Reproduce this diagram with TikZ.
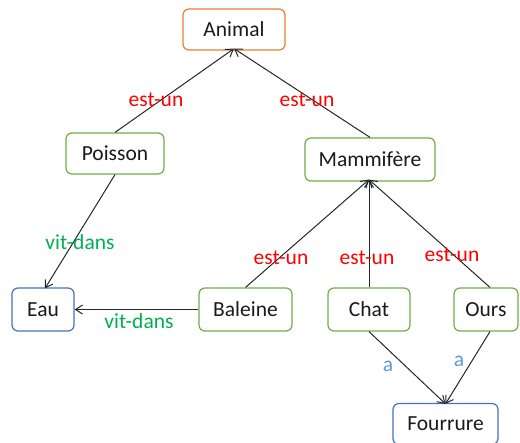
\documentclass[tikz,border=0pt]{standalone}
\usepackage{fontspec}
\setmainfont{Carlito}
\usetikzlibrary{arrows.meta}
\definecolor{boxorange}{HTML}{ED7D31}
\definecolor{boxgreen}{HTML}{70AD47}
\definecolor{boxblue}{HTML}{4472C4}
\definecolor{lblred}{HTML}{FF0000}
\definecolor{lblgreen}{HTML}{00B050}
\definecolor{lblblue}{HTML}{5B9BD5}
\definecolor{txt}{HTML}{1A1A1A}
\begin{document}
\begin{tikzpicture}[x=1pt,y=-1pt,
  concept/.style={draw, line width=1.2pt, rounded corners=6pt, fill=white,
    text=txt, font=\fontsize{21.5}{24}\selectfont, inner sep=0pt},
  orangebox/.style={concept, draw=boxorange},
  greenbox/.style={concept, draw=boxgreen},
  bluebox/.style={concept, draw=boxblue},
  rel/.style={draw=black!85, line width=1pt, -{Straight Barb[length=7pt,width=9pt]}},
  lbl/.style={font=\fontsize{21.5}{24}\selectfont, inner sep=0pt}
]
\useasboundingbox (0,0) rectangle (520,443);

% concepts
\node[orangebox, minimum width=102pt, minimum height=41pt] (animal) at (234,29.5) {Animal};
\node[greenbox, minimum width=98pt, minimum height=41pt] (poisson) at (115,153.5) {Poisson};
\node[greenbox, minimum width=130pt, minimum height=43pt] (mammi) at (370,159.5) {Mammifère};
\node[bluebox, minimum width=62pt, minimum height=43pt] (eau) at (43,309.5) {Eau};
\node[greenbox, minimum width=93pt, minimum height=43pt] (baleine) at (245.5,309.5) {Baleine};
\node[greenbox, minimum width=82pt, minimum height=43pt] (chat) at (369,309.5) {Chat};
\node[greenbox, minimum width=64pt, minimum height=43pt] (ours) at (486,309.5) {Ours};
\node[bluebox, minimum width=105pt, minimum height=41pt] (fourrure) at (445.5,424) {Fourrure};

% relations
\draw[rel] (poisson.north) -- ([yshift=2pt]animal.south);
\draw[rel] (mammi.north) -- ([yshift=2pt]animal.south);
\draw[rel] (poisson.south) -- ([xshift=2pt,yshift=-1pt]eau.north);
\draw[rel] (baleine.west) -- (eau.east);
\draw[rel] (baleine.north) -- ([xshift=-1pt,yshift=2pt]mammi.south);
\draw[rel] (chat.north) -- ([xshift=-1pt,yshift=2pt]mammi.south);
\draw[rel] ([xshift=4pt]ours.north) -- ([xshift=-1pt,yshift=2pt]mammi.south);
\draw[rel] (chat.south) -- ([yshift=-1pt]fourrure.north);
\draw[rel] ([xshift=4pt]ours.south) -- ([yshift=-1pt]fourrure.north);

% relation labels
\node[lbl, text=lblred] (l1) at (156,100) {est-un};
\node[lbl, text=lblred] (l2) at (307,100) {est-un};
\node[lbl, text=lblgreen] (l3) at (80,242.5) {vit-dans};
\node[lbl, text=lblgreen] (l4) at (139,321) {vit-dans};
\node[lbl, text=lblred] (l5) at (281,258) {est-un};
\node[lbl, text=lblred] (l6) at (367,258) {est-un};
\node[lbl, text=lblred] (l7) at (452,255) {est-un};
\node[lbl, text=lblblue] (l8) at (388,366) {a};
\node[lbl, text=lblblue] (l9) at (459,361) {a};
\end{tikzpicture}
\end{document}
